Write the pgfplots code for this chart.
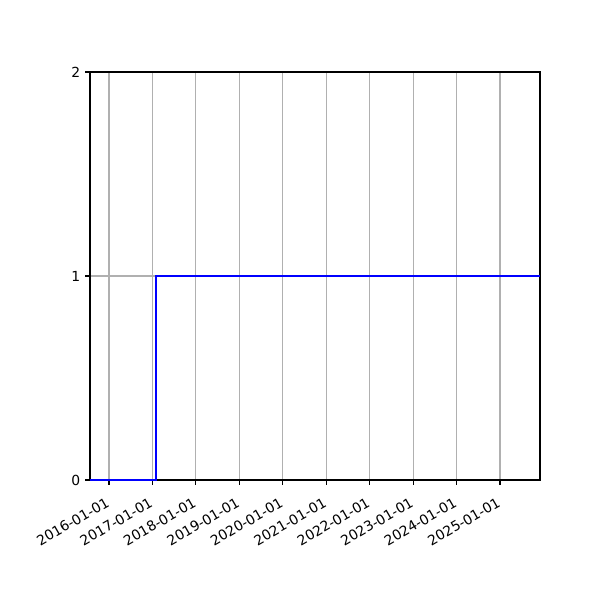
\documentclass[border=0pt]{standalone}
\usepackage{fontspec}
\setmainfont{DejaVu Sans}
\usepackage{pgfplots}
\pgfplotsset{compat=1.18}
\begin{document}
\begin{tikzpicture}
\begin{axis}[
  at={(0,0)}, anchor=south west,
  scale only axis,
  width=324pt, height=293.76pt,
  xmin=2015.563, xmax=2025.92,
  ymin=0, ymax=2,
  xtick={2016,2017,2018,2019,2020,2021,2022,2023,2024,2025},
  xticklabels={2016-01-01,2017-01-01,2018-01-01,2019-01-01,2020-01-01,2021-01-01,2022-01-01,2023-01-01,2024-01-01,2025-01-01},
  ytick={0,1,2},
  yticklabels={0,1,2},
  xticklabel style={rotate=30, anchor=north east, font=\fontsize{10}{12}\selectfont, inner sep=1pt, xshift=-5.6pt, yshift=-4.9pt},
  yticklabel style={font=\fontsize{10}{12}\selectfont},
  tick align=outside,
  major tick length=3.5pt,
  tick style={black, line width=0.8pt},
  xtick pos=bottom, ytick pos=left,
  grid=major,
  grid style={color=black!31, line width=0.8pt},
  axis line style={line width=0.8pt},
  /pgf/number format/assume math mode=true,
]
\addplot[blue, line width=1.5pt, mark=none] coordinates {
  (2015.563,0) (2017.09,0) (2017.09,1) (2025.92,1)
};
\end{axis}
\pgfresetboundingbox
\path (-64.8pt,-86.4pt) rectangle (367.2pt,345.6pt);
\end{tikzpicture}
\end{document}
